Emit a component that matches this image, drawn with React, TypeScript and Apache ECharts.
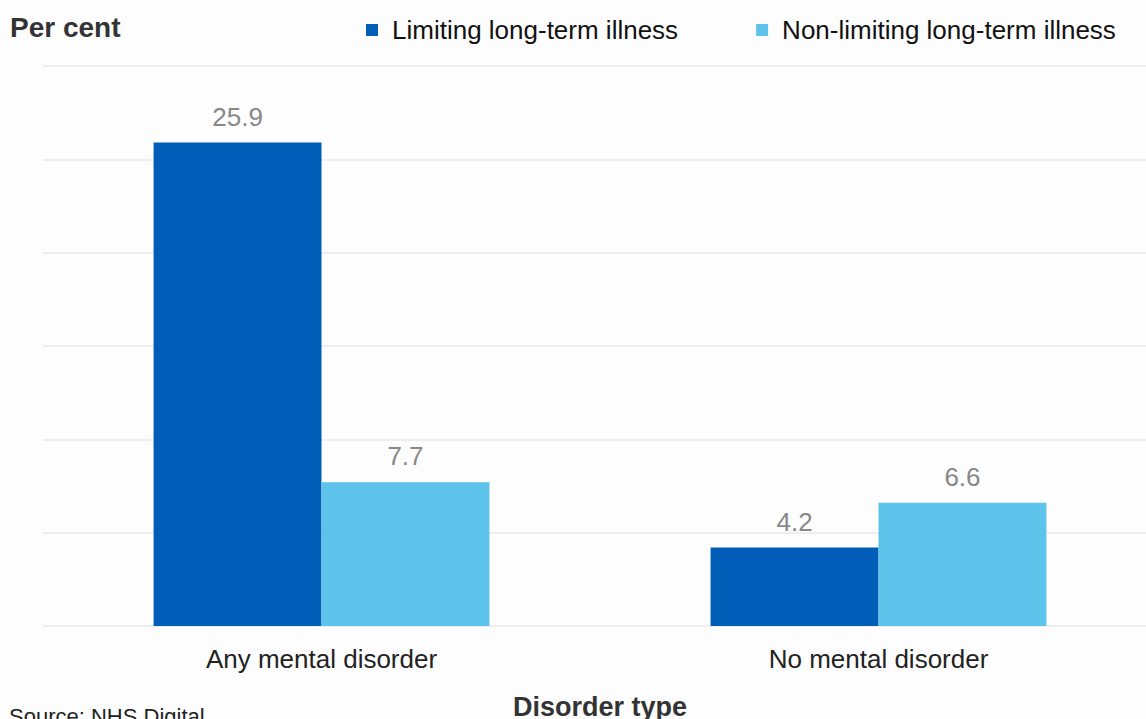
import React, { useEffect, useRef } from "react";
import * as echarts from "echarts";

const categories = ["Any mental disorder", "No mental disorder"];
const limiting = [25.9, 4.2];
const nonLimiting = [7.7, 6.6];
const seriesNames = ["Limiting long-term illness", "Non-limiting long-term illness"];

export default function App() {
  const ref = useRef<HTMLDivElement>(null);
  useEffect(() => {
    document.body.style.margin = "0";
    document.body.style.overflow = "hidden";
    document.documentElement.style.overflow = "hidden";
    const chart = echarts.init(ref.current!, null, { renderer: "svg" });
    const font = "'Liberation Sans', Arial, sans-serif";
    const labelStyle = { show: true, position: "top", distance: 13, fontSize: 26, color: "#888", fontFamily: font };
    chart.setOption({
      animation: false,
      backgroundColor: "#fdfdfd",
      textStyle: { fontFamily: font },
      legend: {
        top: 17,
        left: 366,
        padding: 0,
        itemWidth: 12,
        itemHeight: 12,
        itemGap: 78,
        icon: "rect",
        textStyle: { fontSize: 26, color: "#111", fontFamily: font, padding: [0, 0, 0, 9] },
        data: seriesNames,
      },
      graphic: [
        { type: "text", left: 10, top: 13, style: { text: "Per cent", font: `bold 28px ${font}`, fill: "#333" } },
        { type: "text", left: 9, top: 705, style: { text: "Source: NHS Digital", font: `22px ${font}`, fill: "#222" } },
      ],
      grid: { left: 43, top: 66, width: 1114, height: 560, outerBoundsMode: "none", containLabel: false },
      xAxis: {
        type: "category",
        data: categories,
        axisLine: { show: false },
        axisTick: { show: false },
        axisLabel: { fontSize: 26, color: "#222", margin: 20, fontFamily: font },
        name: "Disorder type",
        nameLocation: "middle",
        nameGap: 67,
        nameTextStyle: { fontSize: 27, fontWeight: "bold", color: "#333", fontFamily: font },
      },
      yAxis: {
        type: "value",
        min: 0,
        max: 30,
        interval: 5,
        axisLabel: { show: false },
        axisLine: { show: false },
        axisTick: { show: false },
        splitLine: { lineStyle: { color: "#eeeeee", width: 2 } },
      },
      series: [
        {
          name: seriesNames[0],
          type: "bar",
          data: limiting,
          itemStyle: { color: "#005EB8" },
          barGap: "0%",
          barCategoryGap: "39.7%",
          label: labelStyle,
        },
        {
          name: seriesNames[1],
          type: "bar",
          data: nonLimiting,
          itemStyle: { color: "#5EC3EA" },
          barGap: "0%",
          barCategoryGap: "39.7%",
          label: labelStyle,
        },
      ],
    });
    return () => chart.dispose();
  }, []);
  return <div ref={ref} style={{ width: 1146, height: 719, overflow: "hidden" }} />;
}
